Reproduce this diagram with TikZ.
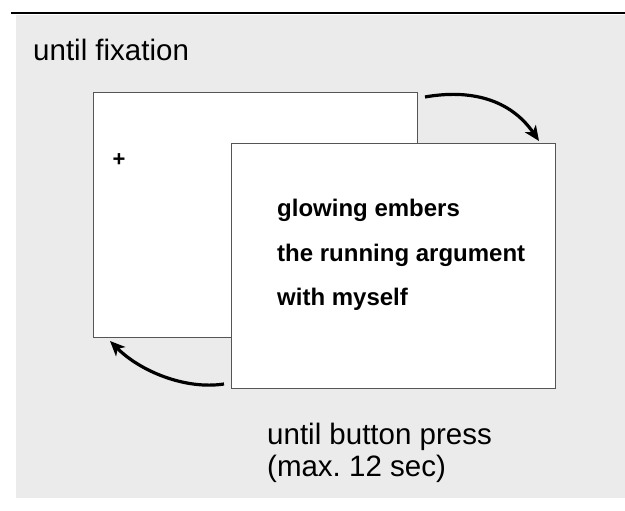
\documentclass[tikz,border=0pt]{standalone}
\usepackage{fontspec}
\setmainfont{Liberation Sans}
\usetikzlibrary{arrows.meta}
\definecolor{bggrey}{HTML}{EBEBEB}
\definecolor{framegrey}{HTML}{555555}
\frenchspacing
\begin{document}
\begin{tikzpicture}[x=1pt,y=1pt,
  screen/.style={draw=framegrey, line width=1pt, fill=white},
  biglabel/.style={inner sep=0pt, anchor=base west, font=\fontsize{29.5}{32}\selectfont, align=left},
  stimtext/.style={inner sep=0pt, anchor=base west, font=\fontsize{24}{28}\selectfont\bfseries},
  cyclearrow/.style={line width=3.2pt, -{Stealth[length=15pt,width=13pt,inset=4pt]}}]
\useasboundingbox (0,0) rectangle (625,511);
\fill[white] (0,0) rectangle (625,511);
\fill[bggrey] (16,13) rectangle (625,496);
\draw[line width=2pt] (11,498) -- (625,498);
% screens
\node[screen, minimum width=324pt, minimum height=245pt, anchor=south west, inner sep=0pt] (s1) at (93,173) {};
\node[inner sep=0pt, font=\fontsize{22}{22}\selectfont\bfseries] (fix) at (119,351) {+};
\node[screen, minimum width=324pt, minimum height=245pt, anchor=south west, inner sep=0pt] (s2) at (231,122) {};
\node[stimtext] (l1) at (277,294) {glowing embers};
\node[stimtext] (l2) at (277,249.5) {the running argument};
\node[stimtext] (l3) at (277,205.5) {with myself};
% labels
\node[biglabel] (t1) at (33,450) {until fixation};
\node[biglabel] (t2) at (267,66) {until button press};
\node[biglabel] (t3) at (267,34) {(max.\ 12 sec)};
% arrows
\coordinate (a1s) at (425,414);
\coordinate (a1e) at (539,370);
\coordinate (a2s) at (224,127);
\coordinate (a2e) at (110,170);
\draw[cyclearrow] (a1s) .. controls (470,422) and (510,412) .. (a1e);
\draw[cyclearrow] (a2s) .. controls (185,121) and (140,140) .. (a2e);
\end{tikzpicture}
\end{document}
